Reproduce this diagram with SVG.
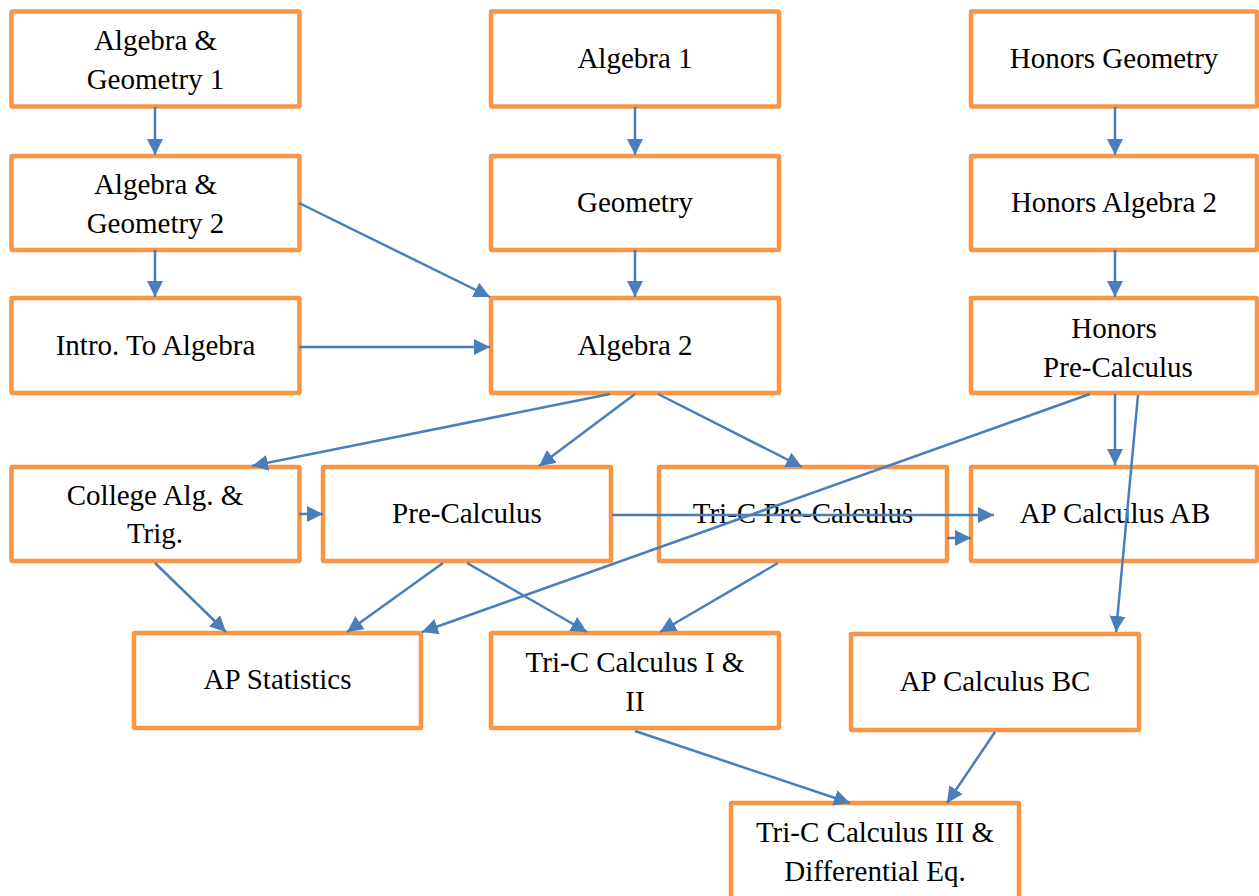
<svg xmlns="http://www.w3.org/2000/svg" width="1259" height="896" viewBox="0 0 1259 896">
<style>
.box{fill:#fff;stroke:#F79646;stroke-width:4.5}
.t{font-family:"Liberation Serif","Times New Roman",serif;font-size:29px;fill:#000;text-anchor:middle}
.c{stroke:#4A7EBB;stroke-width:2.5;fill:none;marker-end:url(#ah)}
</style>
<defs>
<marker id="ah" markerUnits="userSpaceOnUse" markerWidth="16" markerHeight="16" refX="16" refY="8" orient="auto">
<path d="M0,0 L16,8 L0,16 z" fill="#4A7EBB"/>
</marker>
</defs>
<rect width="1259" height="896" fill="#fff"/>
<g id="n-ag1"><rect class="box" x="11.5" y="11.5" width="288" height="95" rx="1"/><text class="t" x="155.5" y="50">Algebra &amp;</text><text class="t" x="155.5" y="89">Geometry 1</text></g>
<g id="n-alg1"><rect class="box" x="491" y="11.5" width="288" height="95" rx="1"/><text class="t" x="635" y="68">Algebra 1</text></g>
<g id="n-hgeo"><rect class="box" x="971" y="11.5" width="286" height="95" rx="1"/><text class="t" x="1114" y="68">Honors Geometry</text></g>
<g id="n-ag2"><rect class="box" x="11.5" y="156" width="288" height="94" rx="1"/><text class="t" x="155.5" y="194">Algebra &amp;</text><text class="t" x="155.5" y="233">Geometry 2</text></g>
<g id="n-geo"><rect class="box" x="491" y="156" width="288" height="94" rx="1"/><text class="t" x="635" y="212">Geometry</text></g>
<g id="n-halg2"><rect class="box" x="971" y="156" width="286" height="94" rx="1"/><text class="t" x="1114" y="212">Honors Algebra 2</text></g>
<g id="n-intro"><rect class="box" x="11.5" y="298" width="288" height="95" rx="1"/><text class="t" x="155.5" y="355">Intro. To Algebra</text></g>
<g id="n-alg2"><rect class="box" x="491" y="298" width="288" height="95" rx="1"/><text class="t" x="635" y="355">Algebra 2</text></g>
<g id="n-hpre"><rect class="box" x="971" y="298" width="286" height="95" rx="1"/><text class="t" x="1114" y="338">Honors</text><text class="t" x="1118" y="377">Pre-Calculus</text></g>
<g id="n-col"><rect class="box" x="11.5" y="467" width="288" height="94" rx="1"/><text class="t" x="155" y="505">College Alg. &amp;</text><text class="t" x="155" y="543">Trig.</text></g>
<g id="n-pre"><rect class="box" x="323" y="467" width="288" height="94" rx="1"/><text class="t" x="467" y="523">Pre-Calculus</text></g>
<g id="n-tpre"><rect class="box" x="659" y="467" width="288" height="94" rx="1"/><text class="t" x="803" y="523">Tri-C Pre-Calculus</text></g>
<g id="n-ab"><rect class="box" x="971" y="467" width="286" height="94" rx="1"/><text class="t" x="1115" y="523">AP Calculus AB</text></g>
<g id="n-stat"><rect class="box" x="134" y="633" width="287" height="95" rx="1"/><text class="t" x="277.5" y="689">AP Statistics</text></g>
<g id="n-tc12"><rect class="box" x="491" y="633" width="288" height="95" rx="1"/><text class="t" x="635" y="672">Tri-C Calculus I &amp;</text><text class="t" x="635" y="711">II</text></g>
<g id="n-bc"><rect class="box" x="851" y="634" width="288" height="96" rx="1"/><text class="t" x="995" y="691">AP Calculus BC</text></g>
<g id="n-tc3"><rect class="box" x="731" y="803" width="288" height="96" rx="1"/><text class="t" x="875" y="842">Tri-C Calculus III &amp;</text><text class="t" x="875" y="881">Differential Eq.</text></g>
<g id="connectors">
<line class="c" x1="155" y1="107" x2="155" y2="155"/>
<line class="c" x1="635" y1="107" x2="635" y2="155"/>
<line class="c" x1="1115" y1="107" x2="1115" y2="155"/>
<line class="c" x1="155" y1="250" x2="155" y2="297"/>
<line class="c" x1="635" y1="250" x2="635" y2="297"/>
<line class="c" x1="1115" y1="250" x2="1115" y2="297"/>
<line class="c" x1="299" y1="203" x2="490" y2="297"/>
<line class="c" x1="299" y1="347" x2="490" y2="347"/>
<line class="c" x1="610" y1="394" x2="252" y2="466"/>
<line class="c" x1="635" y1="394" x2="539" y2="466"/>
<line class="c" x1="658" y1="394" x2="802" y2="467"/>
<line class="c" x1="1115" y1="394" x2="1115" y2="465"/>
<line class="c" x1="1138" y1="395" x2="1116" y2="632"/>
<line class="c" x1="1090" y1="394" x2="422" y2="632"/>
<line class="c" x1="612" y1="515" x2="994" y2="515"/>
<line class="c" x1="947" y1="538" x2="971" y2="538"/>
<line class="c" x1="299" y1="514" x2="323" y2="514"/>
<line class="c" x1="155" y1="563" x2="226" y2="632"/>
<line class="c" x1="443" y1="563" x2="347" y2="632"/>
<line class="c" x1="467" y1="563" x2="587" y2="632"/>
<line class="c" x1="778" y1="563" x2="660" y2="632"/>
<line class="c" x1="635" y1="731" x2="850" y2="803"/>
<line class="c" x1="995" y1="732" x2="947" y2="803"/>
</g>
</svg>
